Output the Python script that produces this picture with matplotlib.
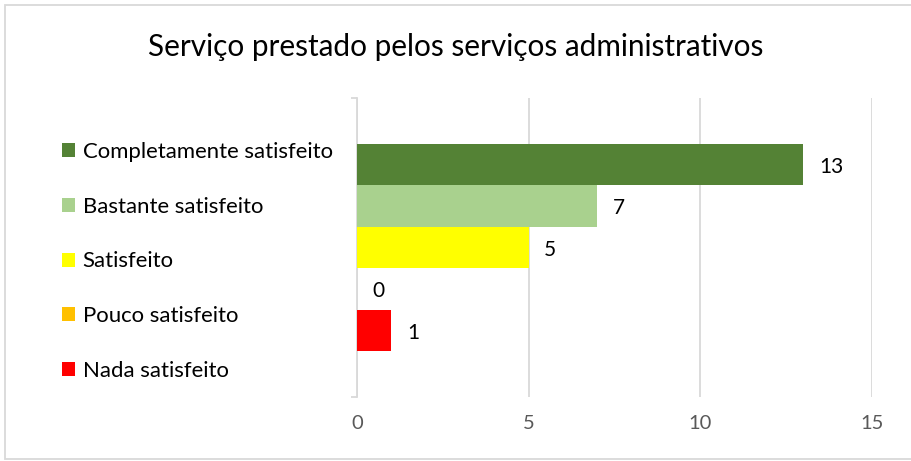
import matplotlib.pyplot as plt
from matplotlib.patches import Rectangle

plt.rcParams['font.family'] = ['Lato', 'DejaVu Sans']

labels = ["Completamente satisfeito", "Bastante satisfeito", "Satisfeito",
          "Pouco satisfeito", "Nada satisfeito"]
values = [13, 7, 5, 0, 1]
colors = ["#548235", "#A9D18E", "#FFFF00", "#FFC000", "#FF0000"]
xticks = [0, 5, 10, 15]
title = "Serviço prestado pelos serviços administrativos"

W, H = 912, 461
fig = plt.figure(figsize=(W / 100, H / 100), dpi=100)

# plot area in pixels: left 357, right 872, top 98, bottom 397
ax = fig.add_axes([357 / W, 1 - 397 / H, (872 - 357) / W, (397 - 98) / H])

handles = []
for i, (lab, v, c) in enumerate(zip(labels, values, colors)):
    b = ax.barh(i, v, height=1.0, color=c, label=lab, zorder=3)
    handles.append(b)
    ax.text(v + 0.45, i + 0.05, str(v), va='center', ha='left', fontsize=15, color='#000000')

ax.set_ylim(4.5 + 1.1, -0.5 - 1.1)
ax.set_xlim(0, 15)
ax.set_xticks(xticks)
ax.tick_params(axis='x', length=0, labelsize=14.5, colors='#595959', pad=13)
ax.xaxis.grid(True, color='#d9d9d9', linewidth=1.3, zorder=0)
ax.set_yticks([4.5 + 1.1, -0.5 - 1.1])
ax.set_yticklabels(['', ''])
ax.tick_params(axis='y', length=4, color='#d9d9d9', width=1.3)
for s in ['top', 'right', 'bottom']:
    ax.spines[s].set_visible(False)
ax.spines['left'].set_color('#d9d9d9')
ax.spines['left'].set_linewidth(1.3)

fig.legend(handles=handles, labels=labels, loc='upper left',
           bbox_to_anchor=(62 / W, 1 - 142 / H), frameon=False,
           fontsize=15.9, handlelength=0.6, handleheight=0.6,
           handletextpad=0.33, labelspacing=1.57, borderpad=0, borderaxespad=0)

fig.text(0.5, 1 - 47 / H, title, ha='center', va='center', fontsize=21.4, color='#000000')

fig.patches.append(Rectangle((5 / W, 2 / H), (W - 5) / W, (H - 7) / H,
                             transform=fig.transFigure, fill=False,
                             edgecolor='#d9d9d9', linewidth=1.3))

fig.savefig('out.png', dpi=100)
